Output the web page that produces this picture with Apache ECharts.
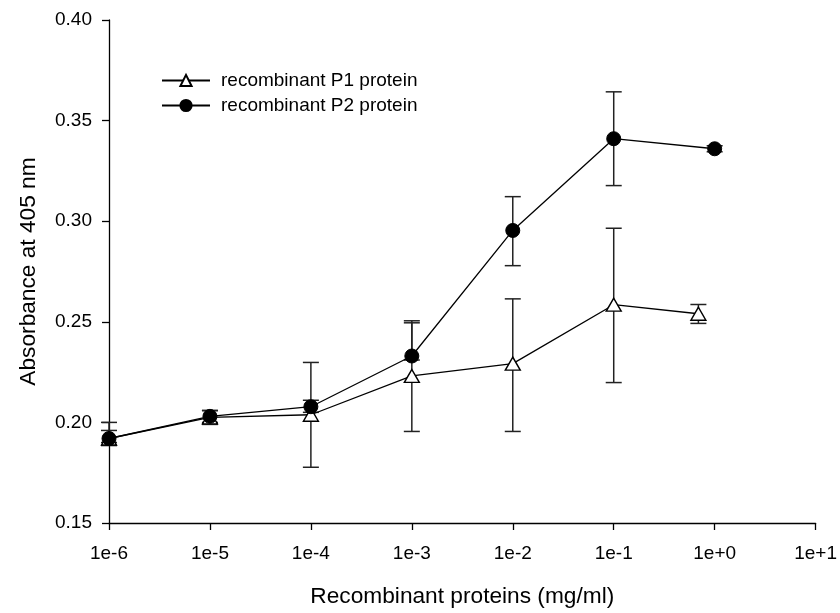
<!DOCTYPE html>
<html>
<head>
<meta charset="utf-8">
<script src="https://cdn.jsdelivr.net/npm/echarts@6/dist/echarts.min.js"></script>
<style>
  html, body { margin: 0; padding: 0; background: #fff; }
  #chart { width: 840px; height: 613px; }
</style>
</head>
<body>
<div id="chart"></div>
<script>
// concentrations (mg/ml)
const xP1 = [1e-6, 1e-5, 1e-4, 1e-3, 1e-2, 1e-1, 0.69]
const xP2 = [1e-6, 1e-5, 1e-4, 1e-3, 1e-2, 1e-1, 1]

// absorbance means and error bar ends
const yP1 = [0.1920, 0.2025, 0.2038, 0.2231, 0.2292, 0.2585, 0.2540]
const loP1 = [0.1885, 0.1990, 0.1777, 0.1955, 0.1955, 0.2198, 0.2492]
const hiP1 = [0.1960, 0.2060, 0.2298, 0.2505, 0.2614, 0.2965, 0.2586]

const yP2 = [0.1920, 0.2030, 0.2078, 0.2330, 0.2954, 0.3410, 0.3360]
const loP2 = [0.1900, 0.2000, 0.2050, 0.2310, 0.2779, 0.3177, 0.3345]
const hiP2 = [0.2000, 0.2058, 0.2110, 0.2495, 0.3122, 0.3643, 0.3375]

const seriesNames = ['recombinant P1 protein', 'recombinant P2 protein']

const font = 'Liberation Sans, Arial, sans-serif'

function zip(a, b) {
  return a.map((v, i) => [v, b[i]])
}

function errData(xs, lo, hi) {
  return xs.map((v, i) => [v, lo[i], hi[i]])
}

function errorBars(api) {
  const x = api.value(0)
  const lo = api.coord([x, api.value(1)])
  const hi = api.coord([x, api.value(2)])
  const w = 8
  const style = { stroke: '#222', lineWidth: 1.5 }
  return {
    type: 'group',
    children: [
      { type: 'line', shape: { x1: lo[0], y1: lo[1], x2: hi[0], y2: hi[1] }, style },
      { type: 'line', shape: { x1: lo[0] - w, y1: lo[1], x2: lo[0] + w, y2: lo[1] }, style },
      { type: 'line', shape: { x1: hi[0] - w, y1: hi[1], x2: hi[0] + w, y2: hi[1] }, style }
    ]
  }
}

const chart = echarts.init(document.getElementById('chart'))

chart.setOption({
  animation: false,
  backgroundColor: '#fff',
  textStyle: { fontFamily: font },
  grid: { left: 109, right: 23, top: 20, bottom: 87 },
  legend: {
    orient: 'vertical',
    left: 156,
    top: 66,
    itemWidth: 48,
    itemHeight: 14,
    itemGap: 6,
    textStyle: { fontSize: 19, color: '#000', fontFamily: font, padding: [0, 0, 0, 6] },
    data: seriesNames
  },
  xAxis: {
    type: 'log',
    logBase: 10,
    min: 1e-6,
    max: 10,
    name: 'Recombinant proteins (mg/ml)',
    nameLocation: 'middle',
    nameGap: 62,
    nameTextStyle: { fontSize: 22.7, color: '#000', fontFamily: font },
    axisLine: { lineStyle: { color: '#000', width: 1.3 } },
    axisTick: { length: 7, lineStyle: { color: '#000', width: 1.3 } },
    minorTick: { show: false },
    splitLine: { show: false },
    axisLabel: {
      color: '#000',
      fontSize: 19,
      margin: 21,
      formatter: v => {
        const e = Math.round(Math.log10(v))
        return '1e' + (e >= 0 ? '+' : '') + e
      }
    }
  },
  yAxis: {
    type: 'value',
    min: 0.15,
    max: 0.40,
    interval: 0.05,
    name: 'Absorbance at 405 nm',
    nameLocation: 'middle',
    nameGap: 69,
    nameTextStyle: { fontSize: 22.7, color: '#000', fontFamily: font },
    axisLine: { show: true, lineStyle: { color: '#000', width: 1.3 } },
    axisTick: { show: true, length: 7, lineStyle: { color: '#000', width: 1.3 } },
    splitLine: { show: false },
    axisLabel: {
      color: '#000',
      fontSize: 19,
      margin: 17,
      formatter: v => v.toFixed(2)
    }
  },
  series: [
    {
      type: 'custom',
      renderItem: (params, api) => errorBars(api),
      data: errData(xP1, loP1, hiP1),
      encode: { x: 0, y: [1, 2] },
      z: 1,
      silent: true
    },
    {
      type: 'custom',
      renderItem: (params, api) => errorBars(api),
      data: errData(xP2, loP2, hiP2),
      encode: { x: 0, y: [1, 2] },
      z: 1,
      silent: true
    },
    {
      name: seriesNames[0],
      type: 'line',
      data: zip(xP1, yP1),
      clip: false,
      symbol: 'triangle',
      symbolSize: [15, 13],
      lineStyle: { color: '#000', width: 1.3 },
      itemStyle: { color: '#fff', borderColor: '#000', borderWidth: 1.4 },
      z: 3
    },
    {
      name: seriesNames[1],
      type: 'line',
      data: zip(xP2, yP2),
      clip: false,
      symbol: 'circle',
      symbolSize: 14,
      lineStyle: { color: '#000', width: 1.3 },
      itemStyle: { color: '#000', borderColor: '#000', borderWidth: 1 },
      z: 4
    }
  ]
})
</script>
</body>
</html>
